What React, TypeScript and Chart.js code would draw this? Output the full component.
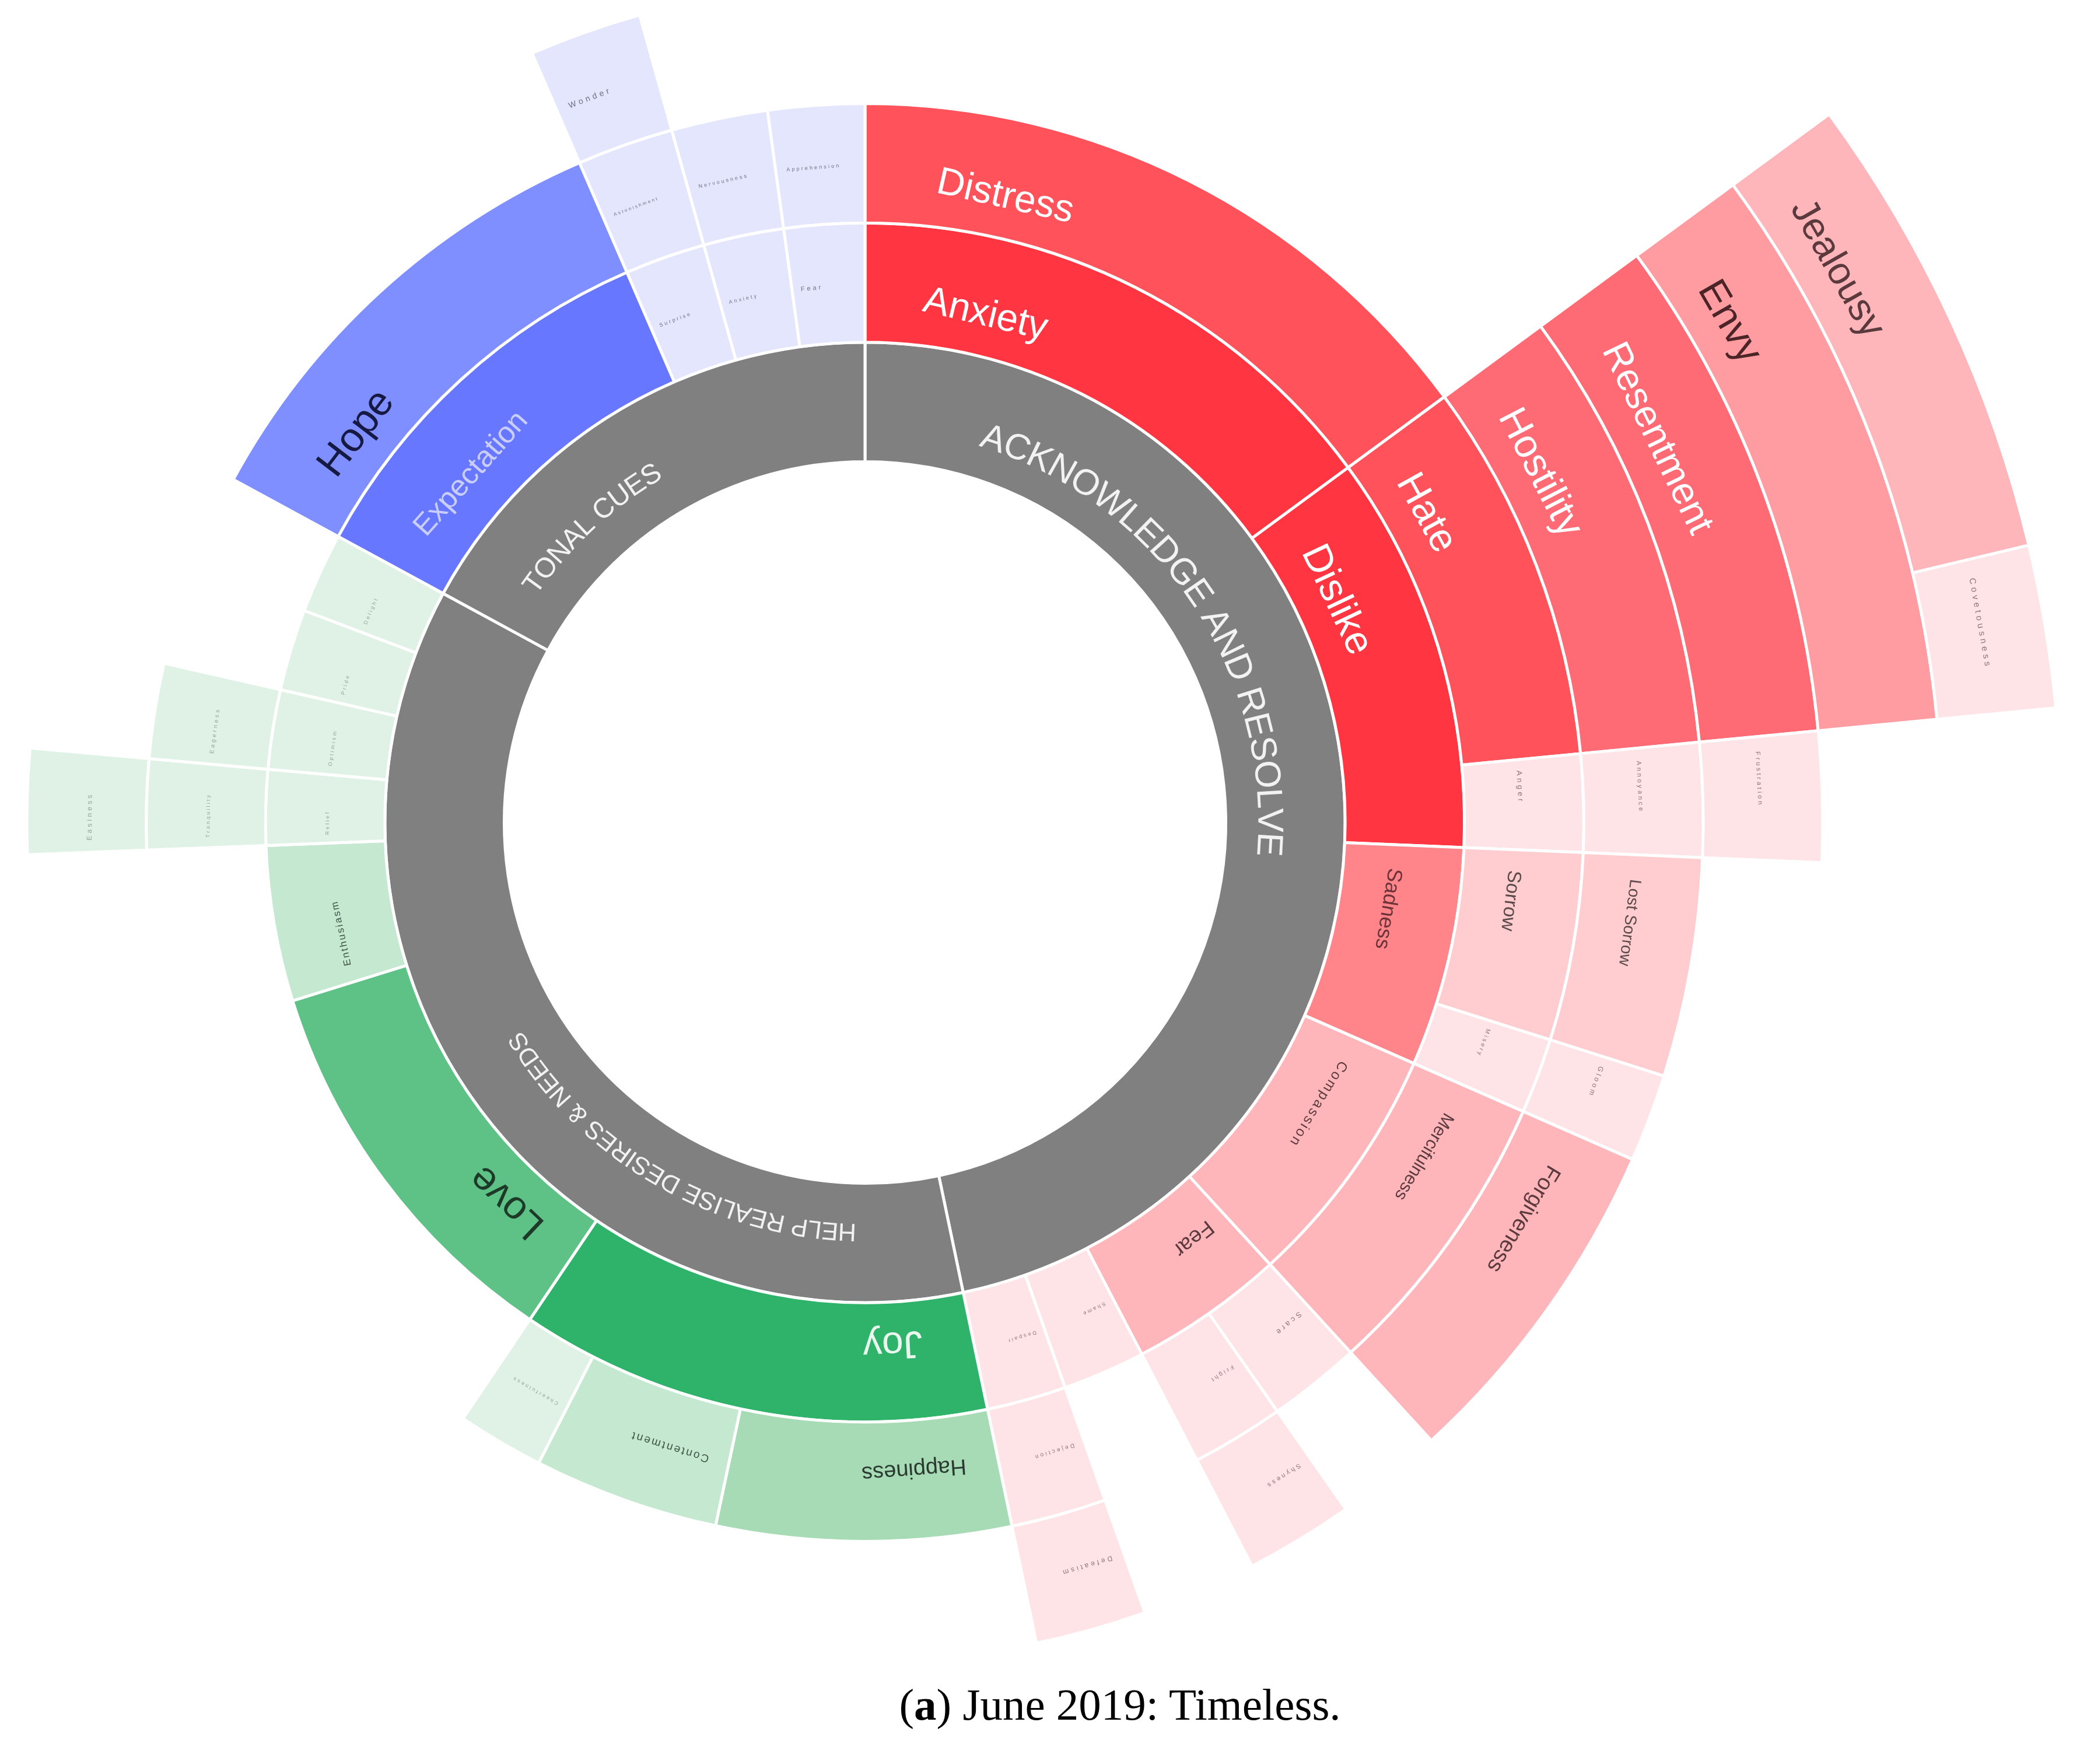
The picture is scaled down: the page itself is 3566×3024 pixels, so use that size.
import React, { useEffect, useRef } from "react";
import { Chart, registerables } from "chart.js";

Chart.register(...registerables);

// ---------- DATA (angular spans in degrees, clockwise from 12 o'clock; null label = empty gap) ----------
const ring1Labels = ["ACKNOWLEDGE AND RESOLVE", "HELP REALISE DESIRES & NEEDS", "TONAL CUES"];
const ring1Values = [168.2, 130.3, 61.5];
const ring1Colors = ["gray", "gray", "gray"];
const ring1Fonts = [62, 43, 48];

const ring2Labels = ["Anxiety", "Dislike", "Sadness", "Compassion", "Fear", "Shame", "Despair", "Joy", "Love", "Enthusiasm", "Relief", "Optimism", "Pride", "Delight", "Expectation", "Surprise", "Anxiety", "Fear"];
const ring2Values = [53.7, 38.7, 21.3, 23.8, 15, 8, 7.7, 45.8, 38.7, 15.1, 7.3, 7.7, 7.9, 7.8, 38.1, 7.8, 7.8, 7.8];
const ring2Colors = ["red1", "red1", "sad", "pink", "pink", "pale", "pale", "g1", "g2", "g4", "g5", "g5", "g5", "g5", "b1", "b5", "b5", "b5"];
const ring2Fonts = [66, 68, 36, 24, 37, 9, 9, 66, 68, 17, 9, 9, 9, 9, 51, 9, 9, 11];

const ring3Labels = ["Distress", "Hate", "Anger", "Sorrow", "Misery", "Mercifulness", "Scare", "Fright", null, "Dejection", "Happiness", "Contentment", "Cheerfulness", null, "Tranquility", "Eagerness", null, "Hope", "Astonishment", "Nervousness", "Apprehension"];
const ring3Values = [53.7, 30.8, 7.9, 15.2, 6.1, 23.8, 7.5, 7.5, 8, 7.7, 23.8, 15, 7, 53.8, 7.3, 7.7, 15.7, 38.1, 7.8, 7.8, 7.8];
const ring3Colors = ["red2", "red2", "pale", "rose", "pale", "pink", "pale", "pale", "none", "pale", "g3", "g4", "g5", "none", "g5", "g5", "none", "b2", "b5", "b5", "b5"];
const ring3Fonts = [66, 68, 13, 33, 10, 30, 13, 10, 0, 10, 38, 19, 9, 0, 9, 10, 0, 70, 8, 9, 9];

const ring4Labels = [null, "Hostility", "Annoyance", "Lost Sorrow", "Gloom", "Forgiveness", null, "Shyness", null, "Defeatism", null, "Easiness", null, "Wonder", null];
const ring4Values = [53.7, 30.8, 7.9, 15.2, 6.1, 23.8, 7.5, 7.5, 8, 7.7, 99.6, 7.3, 61.5, 7.8, 15.6];
const ring4Colors = ["none", "red3", "pale", "rose", "pale", "pink", "none", "pale", "none", "pale", "none", "g5", "none", "b5", "none"];
const ring4Fonts = [0, 68, 11, 28, 12, 38, 0, 11, 0, 12, 0, 12, 0, 14, 0];

const ring5Labels = [null, "Resentment", "Frustration", null];
const ring5Values = [53.7, 30.8, 7.9, 267.6];
const ring5Colors = ["none", "red3", "pale", "none"];
const ring5Fonts = [0, 66, 11, 0];

const ring6Labels = [null, "Envy", null];
const ring6Values = [53.7, 30.8, 275.5];
const ring6Colors = ["none", "red4", "none"];
const ring6Fonts = [0, 68, 0];

const ring7Labels = [null, "Jealousy", "Covetousness", null];
const ring7Values = [53.7, 22.9, 7.9, 275.5];
const ring7Colors = ["none", "pink", "pale", "none"];
const ring7Fonts = [0, 66, 15, 0];

// ---------- STYLE ----------
const PALETTE: Record<string, [string, string]> = {
  gray: ["#808080", "#f2f2f2"],
  red1: ["#FF3541", "#ffffff"],
  red2: ["#FF525B", "#ffffff"],
  red3: ["#FF6B75", "#ffffff"],
  red4: ["#FF9CA2", "#4a2427"],
  pink: ["#FFB6BA", "#5a3a3d"],
  sad: ["#FF858B", "#6b3337"],
  rose: ["#FFCDD0", "#5c4a4b"],
  pale: ["#FFE4E7", "#8f7376"],
  g1: ["#2FB36A", "#e9f7ef"],
  g2: ["#5EC186", "#1d3a29"],
  g3: ["#A7DBB5", "#2a3a30"],
  g4: ["#C5E8D1", "#3f5346"],
  g5: ["#E0F2E6", "#94a699"],
  b1: ["#6777FF", "#c9ceff"],
  b2: ["#7F8FFF", "#161a42"],
  b5: ["#E3E6FC", "#6d7088"],
  none: ["rgba(0,0,0,0)", "#000000"],
};

const W = 3566;
const H = 3024;
const CX = 1483;
const CY = 1410;
const R_OUT = 2051;
const R_IN = 618.5;
const FONT_FAMILY = '"Liberation Sans", Arial, sans-serif';

type Ring = {
  labels: (string | null)[];
  values: number[];
  colors: string[];
  fonts: number[];
  startFrac: number;
  curved: boolean;
};

const RINGS: Ring[] = [
  { labels: ring1Labels, values: ring1Values, colors: ring1Colors, fonts: ring1Fonts, startFrac: 0.1, curved: true },
  { labels: ring2Labels, values: ring2Values, colors: ring2Colors, fonts: ring2Fonts, startFrac: 0.12, curved: false },
  { labels: ring3Labels, values: ring3Values, colors: ring3Colors, fonts: ring3Fonts, startFrac: 0.12, curved: false },
  { labels: ring4Labels, values: ring4Values, colors: ring4Colors, fonts: ring4Fonts, startFrac: 0.12, curved: false },
  { labels: ring5Labels, values: ring5Values, colors: ring5Colors, fonts: ring5Fonts, startFrac: 0.12, curved: false },
  { labels: ring6Labels, values: ring6Values, colors: ring6Colors, fonts: ring6Fonts, startFrac: 0.12, curved: false },
  { labels: ring7Labels, values: ring7Values, colors: ring7Colors, fonts: ring7Fonts, startFrac: 0.12, curved: false },
];

function spacingFor(f: number) {
  return f <= 16 ? 0.35 * f : f <= 24 ? 0.15 * f : 0;
}

const sunburstLabels = {
  id: "sunburstLabels",
  afterDatasetsDraw(chart: any) {
    const ctx: CanvasRenderingContext2D = chart.ctx;
    chart.data.datasets.forEach((ds: any, di: number) => {
      const ring = RINGS[ds.ringIndex];
      const meta = chart.getDatasetMeta(di);
      meta.data.forEach((el: any, i: number) => {
        const label = ring.labels[i];
        if (!label) return;
        const p = el.getProps(["x", "y", "startAngle", "endAngle", "innerRadius", "outerRadius"], true);
        const f = ring.fonts[i];
        const ls = spacingFor(f);
        const t0 = p.startAngle + Math.PI / 2;
        const t1 = p.endAngle + Math.PI / 2;
        const rMid = (p.innerRadius + p.outerRadius) / 2;
        const rText = rMid - 0.4 * f;
        ctx.save();
        ctx.font = `${f}px ${FONT_FAMILY}`;
        ctx.fillStyle = PALETTE[ring.colors[i]][1];
        ctx.textAlign = "center";
        ctx.textBaseline = "alphabetic";
        const chars = Array.from(label);
        const widths = chars.map((c) => ctx.measureText(c).width);
        const total = widths.reduce((a, b) => a + b, 0) + ls * (chars.length - 1);
        const span = t1 - t0;
        const arcLen = span * rText;
        let startOff = span * ring.startFrac * rText;
        if (startOff + total > arcLen) startOff = Math.max(0, (arcLen - total) / 2);
        const base = 0.35 * f;
        if (ring.curved) {
          let s = startOff;
          chars.forEach((c, k) => {
            const t = t0 + (s + widths[k] / 2) / rText;
            ctx.save();
            ctx.translate(p.x + rText * Math.sin(t), p.y - rText * Math.cos(t));
            ctx.rotate(t);
            ctx.fillText(c, 0, base);
            ctx.restore();
            s += widths[k] + ls;
          });
        } else {
          const tc = t0 + (startOff + total / 2) / rText;
          ctx.translate(p.x + rText * Math.sin(tc), p.y - rText * Math.cos(tc));
          ctx.rotate(tc);
          let s = -total / 2;
          chars.forEach((c, k) => {
            ctx.fillText(c, s + widths[k] / 2, base);
            s += widths[k] + ls;
          });
        }
        ctx.restore();
      });
    });
  },
};

export default function App() {
  const ref = useRef<HTMLCanvasElement>(null);

  useEffect(() => {
    if (!ref.current) return;
    const datasets = RINGS.map((ring, idx) => ({
      ringIndex: idx,
      data: ring.values,
      backgroundColor: ring.colors.map((c) => PALETTE[c][0]),
      borderColor: "#ffffff",
      borderWidth: ring.labels.map((l) => (l ? 5 : 0)),
      hoverOffset: 0,
    })).reverse();

    const chart = new Chart(ref.current, {
      type: "doughnut",
      data: { datasets: datasets as any },
      options: {
        animation: false,
        responsive: false,
        events: [],
        cutout: `${(R_IN / R_OUT) * 100}%`,
        radius: R_OUT,
        layout: { padding: { left: 0, top: 0, right: W - 2 * CX, bottom: H - 2 * CY } },
        plugins: { legend: { display: false }, tooltip: { enabled: false } },
      } as any,
      plugins: [sunburstLabels as any],
    });
    return () => chart.destroy();
  }, []);

  return (
    <div style={{ position: "absolute", left: 0, top: 0, width: W, height: H, background: "#ffffff", overflow: "hidden" }}>
      <canvas ref={ref} width={W} height={H} style={{ position: "absolute", left: 0, top: 0, width: W, height: H }} />
      <div
        style={{
          position: "absolute",
          left: 920,
          width: 2000,
          top: 2884,
          textAlign: "center",
          font: '77px "Liberation Serif", "Times New Roman", serif',
          lineHeight: "77px",
          color: "#000000",
          whiteSpace: "nowrap",
        }}
      >
        (<b>a</b>) June 2019: Timeless.
      </div>
    </div>
  );
}
